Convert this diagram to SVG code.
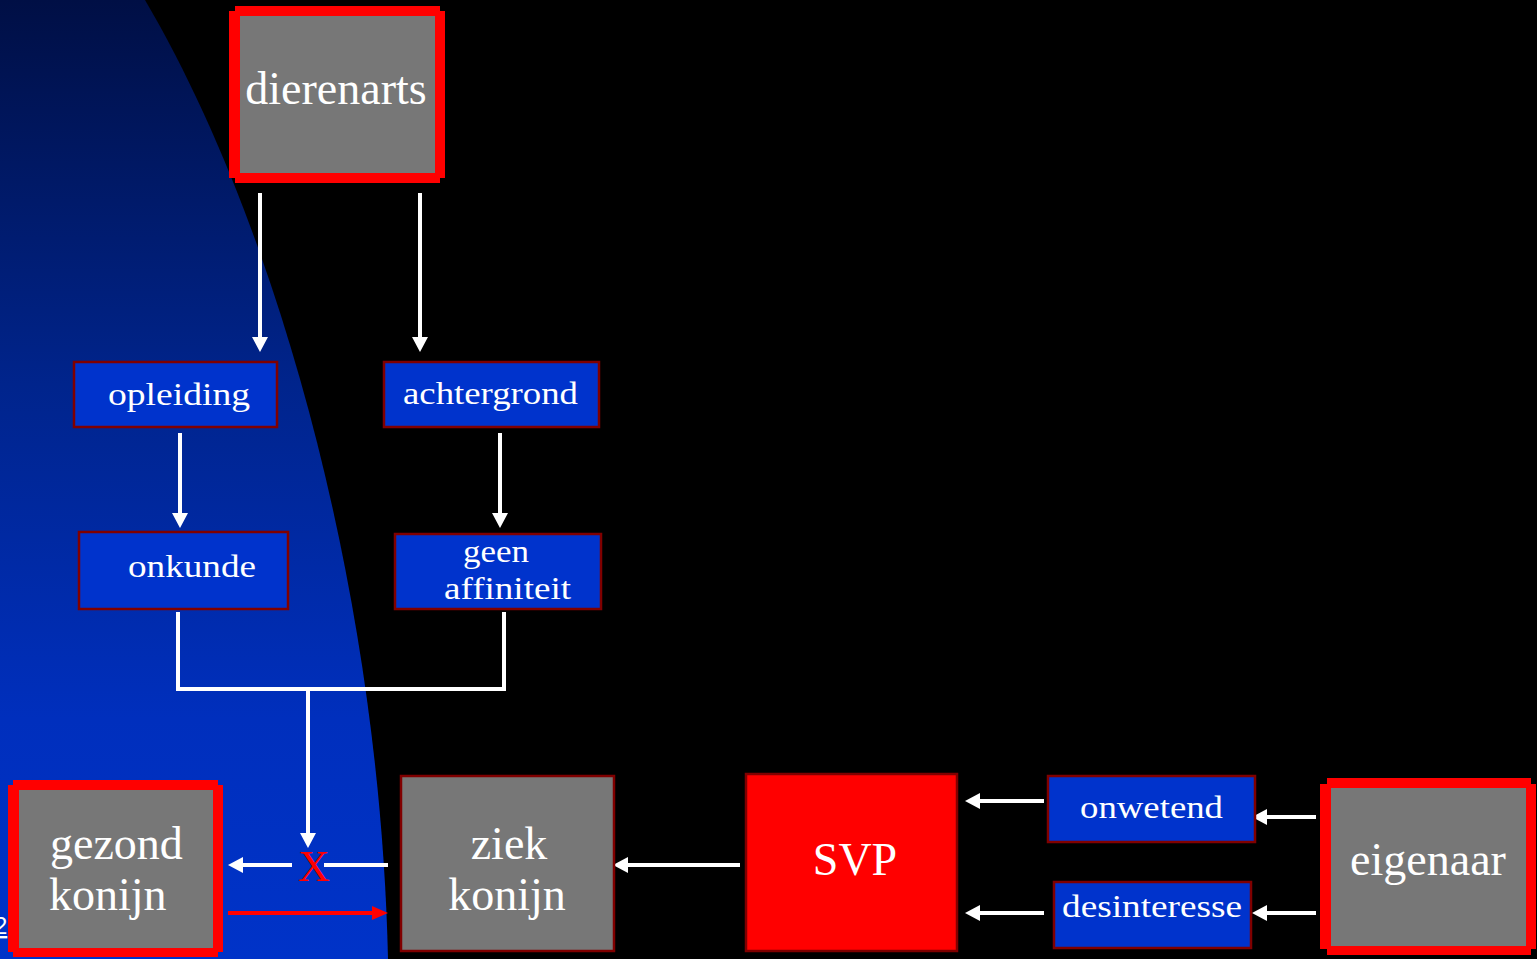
<svg xmlns="http://www.w3.org/2000/svg" width="1537" height="959" viewBox="0 0 1537 959">
<defs>
<linearGradient id="bg" x1="0" y1="0" x2="0" y2="1">
<stop offset="0" stop-color="#000f45"/>
<stop offset="0.4" stop-color="#00248c"/>
<stop offset="0.75" stop-color="#002fbd"/>
<stop offset="1" stop-color="#0033c8"/>
</linearGradient>
<marker id="aw" viewBox="0 0 15 16" refX="7" refY="8" markerWidth="15" markerHeight="16" markerUnits="userSpaceOnUse" orient="auto">
<path d="M0,0 L15,8 L0,16 z" fill="#ffffff"/>
</marker>
<marker id="ar" viewBox="0 0 16 14" refX="8" refY="7" markerWidth="16" markerHeight="14" markerUnits="userSpaceOnUse" orient="auto">
<path d="M0,0 L16,7 L0,14 z" fill="#ff0000"/>
</marker>
</defs>
<style>
.t{font-family:"Liberation Serif","Times New Roman",serif;fill:#ffffff}
.big{font-size:46px}
.mid{font-size:32px}
.blue{fill:#0033cc;stroke:#800000;stroke-width:2.5}
.gray{fill:#777777}
.red{fill:#ff0000}
.conn{fill:none;stroke:#ffffff;stroke-width:4}
</style>
<rect x="0" y="0" width="1537" height="959" fill="#000000"/>
<path d="M0,0 L145,0 C280,230 380,600 388,959 L0,959 Z" fill="url(#bg)"/>
<text x="-6" y="934" font-family="Liberation Sans, Arial, sans-serif" font-size="24" fill="#ffffff" text-decoration="underline">2</text>

<g id="connectors">
<path class="conn" d="M260,193 V344" marker-end="url(#aw)"/>
<path class="conn" d="M420,193 V344" marker-end="url(#aw)"/>
<path class="conn" d="M180,433 V520" marker-end="url(#aw)"/>
<path class="conn" d="M500,433 V520" marker-end="url(#aw)"/>
<path class="conn" d="M178,612 V689 H504 V612" stroke-linejoin="miter"/>
<path class="conn" d="M308,689 V840" marker-end="url(#aw)"/>
<path class="conn" d="M388,865 H324"/>
<path class="conn" d="M292,865 H236" marker-end="url(#aw)"/>
<path d="M228,913 H380" fill="none" stroke="#ff0000" stroke-width="4" marker-end="url(#ar)"/>
<path class="conn" d="M740,865 H621" marker-end="url(#aw)"/>
<path class="conn" d="M1044,801 H973" marker-end="url(#aw)"/>
<path class="conn" d="M1044,913 H973" marker-end="url(#aw)"/>
<path class="conn" d="M1316,817 H1260" marker-end="url(#aw)"/>
<path class="conn" d="M1316,913 H1260" marker-end="url(#aw)"/>
<text x="314" y="881" font-family="Liberation Serif, Times New Roman, serif" font-size="44" fill="#ff0000" text-anchor="middle">X</text>
</g>

<g id="dierenarts">
<rect class="red" x="235" y="6" width="205" height="177"/>
<rect class="red" x="229" y="11" width="216" height="167"/>
<rect class="gray" x="240" y="16" width="195" height="157"/>
<text class="t big" x="336" y="104" text-anchor="middle" font-size="47">dierenarts</text>
</g>

<g id="opleiding">
<rect class="blue" x="74" y="362" width="203" height="65"/>
<text class="t mid" x="108" y="405" textLength="142" lengthAdjust="spacingAndGlyphs">opleiding</text>
</g>

<g id="achtergrond">
<rect class="blue" x="384" y="362" width="215" height="65"/>
<text class="t mid" x="403" y="404" textLength="175" lengthAdjust="spacingAndGlyphs">achtergrond</text>
</g>

<g id="onkunde">
<rect class="blue" x="79" y="532" width="209" height="77"/>
<text class="t mid" x="128" y="577" textLength="128" lengthAdjust="spacingAndGlyphs">onkunde</text>
</g>

<g id="geen-affiniteit">
<rect class="blue" x="395" y="534" width="206" height="75"/>
<text class="t mid" x="463" y="562" textLength="66" lengthAdjust="spacingAndGlyphs">geen</text>
<text class="t mid" x="444" y="599" textLength="127" lengthAdjust="spacingAndGlyphs">affiniteit</text>
</g>

<g id="gezond-konijn">
<rect class="red" x="13" y="780" width="205" height="177"/>
<rect class="red" x="8" y="785" width="215" height="167"/>
<rect class="gray" x="19" y="790" width="194" height="158"/>
<text class="t big" x="50" y="859">gezond</text>
<text class="t big" x="49" y="910">konijn</text>
</g>

<g id="ziek-konijn">
<rect class="gray" x="401" y="776" width="213" height="175" stroke="#800000" stroke-width="2.5"/>
<text class="t big" x="509" y="859" text-anchor="middle">ziek</text>
<text class="t big" x="507" y="910" text-anchor="middle">konijn</text>
</g>

<g id="SVP">
<rect x="746" y="774" width="211" height="177" fill="#ff0000" stroke="#800000" stroke-width="2.5"/>
<text class="t big" x="855" y="875" text-anchor="middle" font-size="48">SVP</text>
</g>

<g id="onwetend">
<rect class="blue" x="1048" y="776" width="207" height="66"/>
<text class="t mid" x="1080" y="818" textLength="143" lengthAdjust="spacingAndGlyphs">onwetend</text>
</g>

<g id="desinteresse">
<rect class="blue" x="1054" y="882" width="197" height="66"/>
<text class="t mid" x="1062" y="917" textLength="180" lengthAdjust="spacingAndGlyphs">desinteresse</text>
</g>

<g id="eigenaar">
<rect class="red" x="1327" y="778" width="204" height="177"/>
<rect class="red" x="1320" y="784" width="216" height="165"/>
<rect class="gray" x="1331" y="788" width="195" height="158"/>
<text class="t big" x="1428" y="875" text-anchor="middle" font-size="47">eigenaar</text>
</g>
</svg>
